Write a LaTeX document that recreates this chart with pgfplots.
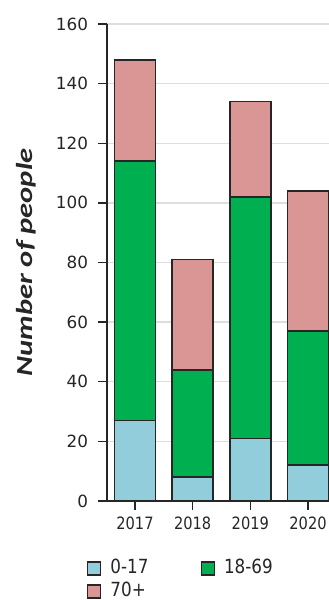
\documentclass[border=0pt]{standalone}
\usepackage{pgfplots}
\pgfplotsset{compat=1.18}
\usepackage{fontspec}
\setmainfont{DejaVu Sans}
\newfontfamily\tickfont{DejaVu Sans}
\newfontfamily\condfont[FakeStretch=0.86]{DejaVu Sans}
\newfontfamily\labfont[FakeStretch=1.33]{Carlito}
\definecolor{cblue}{HTML}{92CDDC}
\definecolor{cgreen}{HTML}{00B050}
\definecolor{cpink}{HTML}{DA9694}
\definecolor{txt}{HTML}{262626}
\pgfplotsset{swatch/.style={legend image code/.code={\draw[##1,line width=1.5pt] (0pt,-6.5pt) rectangle (13pt,6.5pt);}}}
\begin{document}
\begin{tikzpicture}
\begin{axis}[
  at={(107pt,99pt)}, anchor=south west,
  scale only axis, width=222pt, height=477pt,
  xmin=-0.485, xmax=3.364, ymin=0, ymax=160,
  ybar stacked, bar width=0.71,
  axis x line*=bottom, axis y line*=left,
  axis line style={-, draw=black!85, line width=1.3pt},
  tick style={draw=black!85, line width=1.3pt},
  tick align=outside, major tick length=8.5pt,
  xtick={0,1,2,3}, xticklabels={2017,2018,2019,2020},
  ytick={0,20,...,160},
  /pgf/number format/assume math mode=true,
  xticklabel style={font=\condfont\fontsize{17}{17}\selectfont, text=txt, yshift=-3.5pt},
  yticklabel style={font=\tickfont\fontsize{16.8}{16.8}\selectfont, text=txt, xshift=-7pt},
  ymajorgrids, grid style={draw=black!13, line width=1.3pt},
  ylabel={Number of people},
  ylabel style={at={(axis description cs:-0.365,0.5)}, anchor=center,
    font=\labfont\bfseries\itshape\fontsize{23}{23}\selectfont, text=txt},
  legend columns=2,
  legend style={draw=none, fill=none, inner sep=0pt, outer sep=0pt,
    anchor=north west, at={(axis description cs:-0.0901,-0.123)},
    font=\condfont\fontsize{19.5}{19.5}\selectfont, text=txt,
    row sep=5pt,
    nodes={inner sep=0pt, text height=14pt, text depth=4pt, anchor=west},
    /tikz/every odd column/.append style={column sep=9pt},
    /tikz/every even column/.append style={column sep=52pt}},
]
\addplot[fill=cblue, draw=black!85, line width=1.6pt, swatch] coordinates {(0,27) (1,8) (2,21) (3,12)};
\addplot[fill=cgreen, draw=black!85, line width=1.6pt, swatch] coordinates {(0,87) (1,36) (2,81) (3,45)};
\addplot[fill=cpink, draw=black!85, line width=1.6pt, swatch] coordinates {(0,34) (1,37) (2,32) (3,47)};
\legend{0-17,18-69,70+}
\end{axis}
\pgfresetboundingbox
\path[use as bounding box] (0,0) rectangle (329pt,600pt);
\end{tikzpicture}
\end{document}
